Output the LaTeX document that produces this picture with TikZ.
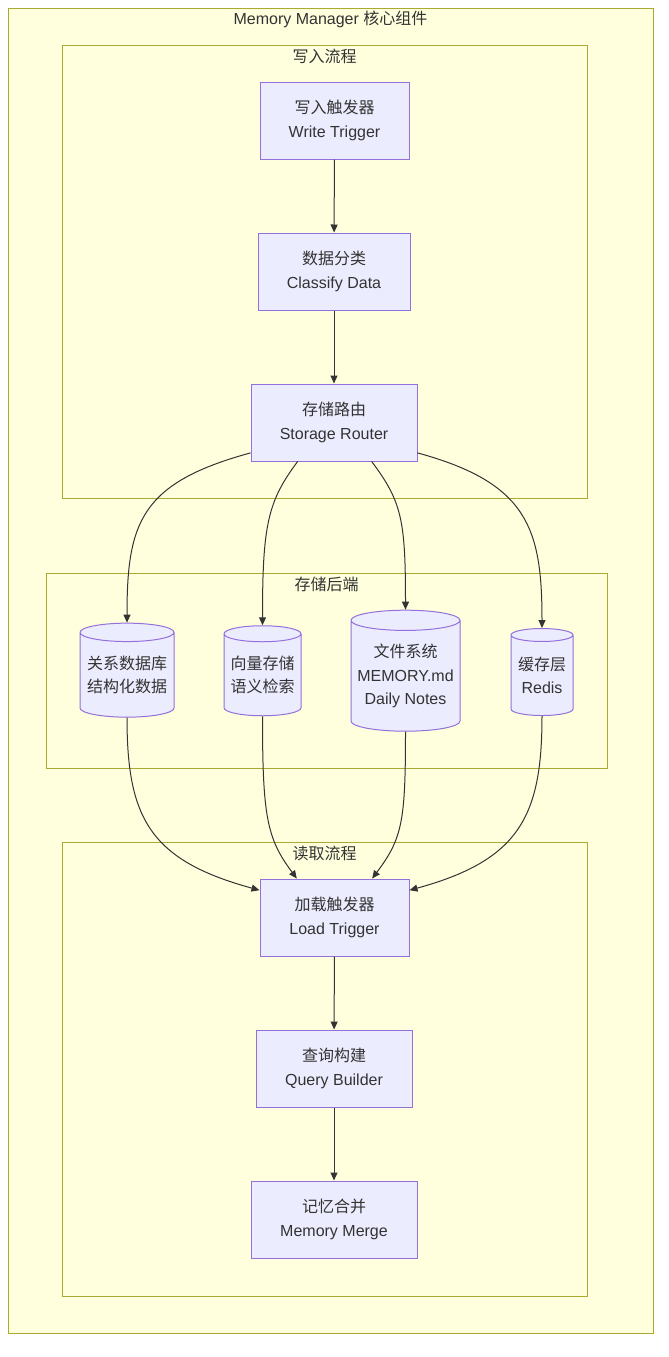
\documentclass[tikz,border=0pt]{standalone}
\usepackage{fontspec}
\setmainfont{Liberation Sans}
\newfontfamily\cjk{Noto Sans CJK SC}
\usetikzlibrary{arrows.meta,shapes.geometric}
\definecolor{boxfill}{HTML}{ECECFF}
\definecolor{boxline}{HTML}{9370DB}
\definecolor{groupfill}{HTML}{FFFFDE}
\definecolor{groupline}{HTML}{AAAA33}
\definecolor{txtgray}{HTML}{333333}

\begin{document}
\begin{tikzpicture}[x=1pt, y=1pt,
    every node/.style={text=txtgray, font=\fontsize{16}{23.5}\selectfont},
    group/.style={draw=groupline, fill=groupfill, line width=1pt, inner sep=0pt},
    proc/.style={draw=boxline, fill=boxfill, line width=1pt, align=center, minimum height=77pt},
    store/.style={cylinder, shape border rotate=90, draw=boxline, fill=boxfill, line width=1pt, align=center, inner sep=0pt},
    flow/.style={draw=txtgray, line width=1pt, -{Triangle[length=8pt,width=7pt]}}]
\useasboundingbox[fill=white] (0,0) rectangle (669,-1357);

\node[group, minimum width=645pt, minimum height=1325pt] (core) at (330.5,-670.5) {};
\node (coretitle) at ([yshift=-12pt]core.north) {Memory Manager {\cjk 核心组件}};

\node[group, minimum width=525pt, minimum height=453pt] (write) at (324.5,-271.5) {};
\node (writetitle) at ([yshift=-12pt]write.north) {\cjk 写入流程};
\node[group, minimum width=561pt, minimum height=195pt] (backend) at (326.5,-670.5) {};
\node (backendtitle) at ([yshift=-12pt]backend.north) {\cjk 存储后端};
\node[group, minimum width=525pt, minimum height=454pt] (read) at (324.5,-1069) {};
\node (readtitle) at ([yshift=-12pt]read.north) {\cjk 读取流程};

\node[proc, minimum width=149pt] (wtrig)  at (334.5,-120.5) {{\cjk 写入触发器}\\Write Trigger};
\node[proc, minimum width=152pt] (classify) at (334,-271.5) {{\cjk 数据分类}\\Classify Data};
\node[proc, minimum width=166pt] (router) at (334,-422.5) {{\cjk 存储路由}\\Storage Router};

\node[store, minimum width=94pt, minimum height=94pt, aspect=0.23] (rdb) at (127,-675) {{\cjk 关系数据库}\\{\cjk 结构化数据}};
\node[store, minimum width=77pt, minimum height=90pt, aspect=0.25] (vdb) at (262.5,-675) {{\cjk 向量存储}\\{\cjk 语义检索}};
\node[store, minimum width=109pt, minimum height=121pt, aspect=0.21] (fsys) at (405.5,-676) {{\cjk 文件系统}\\MEMORY.md\\Daily Notes};
\node[store, minimum width=62pt, minimum height=87pt, aspect=0.27] (cache) at (542,-675.5) {{\cjk 缓存层}\\Redis};

\node[proc, minimum width=149pt] (ltrig) at (334.5,-917.5) {{\cjk 加载触发器}\\Load Trigger};
\node[proc, minimum width=156pt] (qbuild) at (334,-1068.5) {{\cjk 查询构建}\\Query Builder};
\node[proc, minimum width=166pt] (merge) at (334,-1219.5) {{\cjk 记忆合并}\\Memory Merge};

\draw[flow] (wtrig) -- (classify);
\draw[flow] (classify) -- (router);

\draw[flow] (router.200) .. controls +(-110,-30) and +(0,100) .. (rdb.north);
\draw[flow] (router.227) .. controls +(-30,-40) and +(0,100) .. (vdb.north);
\draw[flow] (router.314) .. controls +(30,-40) and +(0,90) .. (fsys.north);
\draw[flow] (router.340) .. controls +(110,-30) and +(0,100) .. (cache.north);

\draw[flow] (rdb.south) .. controls +(0,-100) and +(-110,30) .. (ltrig.160);
\draw[flow] (vdb.south) .. controls +(0,-100) and +(-30,40) .. (ltrig.134);
\draw[flow] (fsys.south) .. controls +(0,-90) and +(30,40) .. (ltrig.46);
\draw[flow] (cache.south) .. controls +(0,-100) and +(110,30) .. (ltrig.20);

\draw[flow] (ltrig) -- (qbuild);
\draw[flow] (qbuild) -- (merge);
\end{tikzpicture}
\end{document}
